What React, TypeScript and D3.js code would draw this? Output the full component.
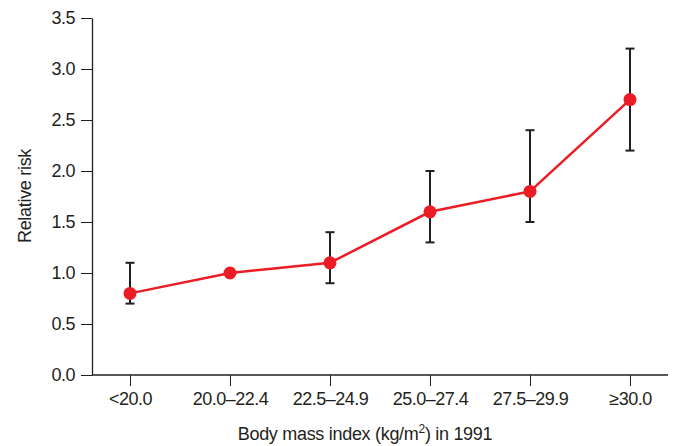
import * as d3 from "d3";
import { useEffect, useRef } from "react";

const categories = ["<20.0", "20.0–22.4", "22.5–24.9", "25.0–27.4", "27.5–29.9", "≥30.0"];
const riskValues = [0.8, 1.0, 1.1, 1.6, 1.8, 2.7];
const lowerCI: (number | null)[] = [0.7, null, 0.9, 1.3, 1.5, 2.2];
const upperCI: (number | null)[] = [1.1, null, 1.4, 2.0, 2.4, 3.2];
const yTicks = [0, 0.5, 1.0, 1.5, 2.0, 2.5, 3.0, 3.5];

const W = 674;
const H = 446;
const FONT = "'Liberation Sans', Arial, Helvetica, sans-serif";

export default function App() {
  const ref = useRef<SVGSVGElement>(null);

  useEffect(() => {
    const svg = d3.select(ref.current);
    svg.selectAll("*").remove();

    const margin = { top: 18, right: 6, bottom: 71, left: 92 };
    const width = W - margin.left - margin.right;
    const height = H - margin.top - margin.bottom;

    const g = svg
      .append("g")
      .attr("transform", `translate(${margin.left},${margin.top})`);

    // x: point scale, first category ~38px right of the axis
    const x = d3
      .scalePoint<string>()
      .domain(categories)
      .range([38, 538]);

    const y = d3.scaleLinear().domain([0, 3.5]).range([height, 0]);

    // Y axis
    const yAxis = g
      .append("g")
      .call(
        d3
          .axisLeft(y)
          .tickValues(yTicks)
          .tickFormat(d3.format(".1f"))
          .tickSize(11)
          .tickSizeOuter(0)
          .tickPadding(6)
      );
    yAxis.select(".domain").attr("stroke", "#231f20").attr("stroke-width", 1.3);
    yAxis.selectAll(".tick line").attr("stroke", "#231f20").attr("stroke-width", 1);
    yAxis
      .selectAll("text")
      .attr("font-family", FONT)
      .attr("font-size", 18)
      .attr("letter-spacing", -0.5)
      .attr("fill", "#231f20");

    // X axis
    const xAxis = g
      .append("g")
      .attr("transform", `translate(0,${height})`)
      .call(d3.axisBottom(x).tickSize(11).tickSizeOuter(0).tickPadding(6));
    xAxis
      .select(".domain")
      .attr("d", `M0,0H${width}`)
      .attr("stroke", "#231f20")
      .attr("stroke-width", 1.3);
    xAxis.selectAll(".tick line").attr("stroke", "#231f20").attr("stroke-width", 1);
    xAxis
      .selectAll("text")
      .attr("font-family", FONT)
      .attr("font-size", 18)
      .attr("letter-spacing", -0.5)
      .attr("fill", "#231f20");

    // Axis titles
    const xt = svg
      .append("text")
      .attr("x", 365)
      .attr("y", 440)
      .attr("text-anchor", "middle")
      .attr("font-family", FONT)
      .attr("font-size", 18)
      .attr("letter-spacing", -0.3)
      .attr("fill", "#231f20");
    xt.append("tspan").text("Body mass index (kg/m");
    xt.append("tspan").attr("dy", -7).attr("font-size", 12).text("2");
    xt.append("tspan").attr("dy", 7).text(") in 1991");

    svg
      .append("text")
      .attr("transform", `translate(31,196) rotate(-90)`)
      .attr("text-anchor", "middle")
      .attr("font-family", FONT)
      .attr("font-size", 18)
      .attr("letter-spacing", -0.3)
      .attr("fill", "#231f20")
      .text("Relative risk");

    const data = categories.map((c, i) => ({
      cat: c,
      value: riskValues[i],
      lo: lowerCI[i],
      hi: upperCI[i],
    }));

    // Error bars
    const eb = g
      .selectAll("g.err")
      .data(data.filter((d) => d.lo != null && d.hi != null))
      .enter()
      .append("g")
      .attr("stroke", "#231f20")
      .attr("stroke-width", 2);
    eb.append("line")
      .attr("x1", (d) => x(d.cat)!)
      .attr("x2", (d) => x(d.cat)!)
      .attr("y1", (d) => y(d.lo!))
      .attr("y2", (d) => y(d.hi!));
    eb.append("line")
      .attr("x1", (d) => x(d.cat)! - 4.5)
      .attr("x2", (d) => x(d.cat)! + 4.5)
      .attr("y1", (d) => y(d.hi!))
      .attr("y2", (d) => y(d.hi!));
    eb.append("line")
      .attr("x1", (d) => x(d.cat)! - 4.5)
      .attr("x2", (d) => x(d.cat)! + 4.5)
      .attr("y1", (d) => y(d.lo!))
      .attr("y2", (d) => y(d.lo!));

    // Line
    const line = d3
      .line<(typeof data)[number]>()
      .x((d) => x(d.cat)!)
      .y((d) => y(d.value));
    g.append("path")
      .datum(data)
      .attr("d", line)
      .attr("fill", "none")
      .attr("stroke", "#ec1c24")
      .attr("stroke-width", 2.5);

    // Points
    g.selectAll("circle")
      .data(data)
      .enter()
      .append("circle")
      .attr("cx", (d) => x(d.cat)!)
      .attr("cy", (d) => y(d.value))
      .attr("r", 6.5)
      .attr("fill", "#ec1c24");
  }, []);

  return (
    <svg
      ref={ref}
      width={W}
      height={H}
      style={{ position: "absolute", left: 0, top: 0, background: "#fff" }}
    />
  );
}
